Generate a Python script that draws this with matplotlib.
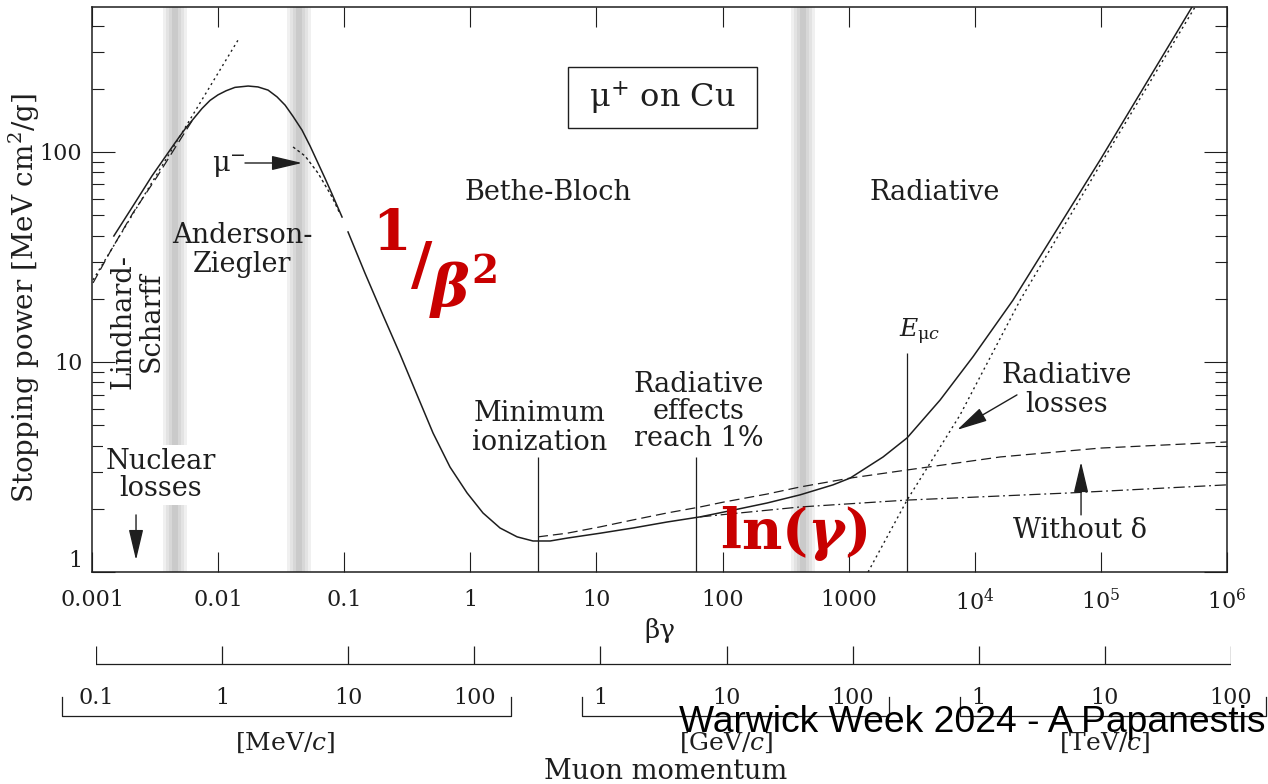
import matplotlib.pyplot as plt
from matplotlib.patches import Rectangle
from matplotlib.ticker import LogLocator, NullFormatter, NullLocator

plt.rcParams['font.family'] = 'DejaVu Serif'
plt.rcParams['mathtext.fontset'] = 'dejavuserif'

# total stopping power of mu+ on Cu (two pieces, gap near bg = 0.1)
BG_LOW = [0.00149, 0.002113, 0.00299, 0.00455, 0.00547, 0.00745, 0.00863, 0.00998,
          0.01157, 0.0136, 0.0173, 0.0207, 0.0249, 0.0293, 0.0340, 0.0393, 0.0463,
          0.0536, 0.0619, 0.0705, 0.0800, 0.0961]
S_LOW = [39.8, 55.3, 76.9, 110.4, 128.7, 161, 176, 187,
         195.6, 203, 206, 204, 197, 183, 167, 147.6, 127,
         106.8, 88.6, 74.8, 63.1, 49.0]

BG_HIGH = [0.1072, 0.146, 0.203, 0.277, 0.378, 0.506, 0.690, 0.942, 1.26, 1.72, 2.35,
           3.14, 4.29, 5.85, 10.7, 19.5, 36.3, 66.4, 121, 225, 412, 752, 1027, 1875,
           2905, 5310, 9690, 20100, 98600, 528000]
S_HIGH = [41.6, 26.5, 16.7, 10.9, 6.97, 4.59, 3.16, 2.38, 1.91, 1.62, 1.47,
          1.405, 1.405, 1.45, 1.53, 1.62, 1.73, 1.83, 1.97, 2.13, 2.33, 2.60, 2.80, 3.53,
          4.35, 6.59, 10.6, 19.7, 91.6, 490]

# without density effect (dashed)
BG_NODELTA = [3.44, 5.85, 10.7, 19.5, 36.3, 66.4, 101, 225, 412, 1027, 2905, 15900, 98600, 1e6]
S_NODELTA = [1.47, 1.53, 1.64, 1.77, 1.91, 2.04, 2.15, 2.35, 2.54, 2.80, 3.06, 3.53, 3.89, 4.16]

# ionization only (dash-dot)
BG_ION = [66.4, 412, 2905, 57000, 1e6]
S_ION = [1.83, 2.04, 2.20, 2.38, 2.60]

# radiative losses (dotted)
BG_RAD = [1425, 2905, 7640, 22900, 98600, 558000]
S_RAD = [1.0, 2.20, 5.59, 19.7, 86.7, 490]

# Lindhard-Scharff (dashed) and low energy asymptote (dotted)
BG_LS = [0.00102, 0.00139, 0.00211, 0.00327, 0.00455, 0.00621]
S_LS = [23.8, 33.4, 51.2, 76.0, 104.5, 140.5]
BG_ASYM = [0.00102, 0.01439]
S_ASYM = [24.6, 341]

# mu- correction
BG_MUM = [0.0393, 0.0489, 0.0619, 0.0800, 0.0927]
S_MUM = [105.6, 95.7, 79.4, 61.1, 50.7]

# minimum ionization, radiative 1%, muon critical energy
MARK_BG = [3.44, 61.6, 2905]
MARK_TOP = [3.53, 3.53, 11.0]

BAND_CENTERS = [0.00455, 0.0439, 435]

X_TICKS = [1e-3, 1e-2, 1e-1, 1, 10, 100, 1000, 1e4, 1e5, 1e6]
X_LABELS = ['0.001', '0.01', '0.1', '1', '10', '100', '1000',
            r'$10^4$', r'$10^5$', r'$10^6$']
Y_TICKS = [1, 10, 100]
Y_LABELS = ['1', '10', '100']

# muon momentum scale, MeV/c
P_TICKS = [0.1, 1, 10, 100, 1e3, 1e4, 1e5, 1e6, 1e7, 1e8]
P_LABELS = ['0.1', '1', '10', '100', '1', '10', '100', '1', '10', '100']
P_UNITS = [r'[MeV/$c$]', r'[GeV/$c$]', r'[TeV/$c$]']
P_UNIT_POS = [3.16, 1e4, 1e7]
P_BRACKETS = [(0.0537, 195), (715, 1.945e5), (7.11e5, 1.9e8)]

INK = '#1e1e1e'
RED = '#c80000'

fig = plt.figure(figsize=(12.68, 7.84), dpi=100)
ax = fig.add_axes([92 / 1268, 212 / 784, 1135 / 1268, 565 / 784])
ax.set_xscale('log')
ax.set_yscale('log')
ax.set_xlim(1e-3, 1e6)
ax.set_ylim(1, 490)

for c in BAND_CENTERS:
    for hw, col in [(0.095, '#f0f0f0'), (0.072, '#e3e3e3'), (0.048, '#d7d7d7'), (0.022, '#cacaca')]:
        ax.axvspan(c * 10 ** -hw, c * 10 ** hw, color=col, lw=0, zorder=0)

ax.plot(BG_LOW, S_LOW, color=INK, lw=1.1)
ax.plot(BG_HIGH, S_HIGH, color=INK, lw=1.1)
ax.plot(BG_NODELTA, S_NODELTA, color=INK, lw=0.9, ls=(0, (8, 4)))
ax.plot(BG_ION, S_ION, color=INK, lw=0.9, ls=(0, (9, 3, 1.5, 3)))
ax.plot(BG_RAD, S_RAD, color=INK, lw=1.0, ls=(0, (1.5, 2.5)))
ax.plot(BG_LS, S_LS, color=INK, lw=0.9, ls=(0, (8, 4)))
ax.plot(BG_ASYM, S_ASYM, color=INK, lw=1.0, ls=(0, (1.5, 2.5)))
ax.plot(BG_MUM, S_MUM, color=INK, lw=1.0, ls=(0, (2, 2)))
ax.vlines(MARK_BG, 1, MARK_TOP, color=INK, lw=0.9)

# axes styling
for sp in ax.spines.values():
    sp.set_linewidth(1.1)
    sp.set_color(INK)
ax.set_xticks(X_TICKS, X_LABELS)
ax.xaxis.set_minor_locator(NullLocator())
ax.set_yticks(Y_TICKS, Y_LABELS)
ax.yaxis.set_minor_locator(LogLocator(subs=range(2, 10)))
ax.yaxis.set_minor_formatter(NullFormatter())
ax.tick_params(which='both', direction='in', top=True, right=True, width=0.8,
               color=INK, labelcolor=INK, labelsize=16)
ax.tick_params(axis='x', which='major', length=14.4, pad=12)
ax.tick_params(axis='y', which='major', length=16.5, pad=7)
ax.tick_params(axis='y', which='minor', length=8.6)
ax.get_yticklabels()[0].set_verticalalignment('bottom')

ax.set_xlabel('βγ', fontsize=19, color=INK)
ax.xaxis.set_label_coords(0.5, -0.082)
ax.set_ylabel('Stopping power [MeV cm$^2$/g]', fontsize=20, color=INK)
ax.yaxis.set_label_coords(-0.044, 0.485)

# annotations
txt = dict(transform=ax.transAxes, ha='center', va='center', fontsize=19.5, color=INK)
ax.add_patch(Rectangle((0.4194, 0.7858), 0.1665, 0.108, transform=ax.transAxes,
                       fill=False, lw=1.0, ec=INK))
ax.text(0.5026, 0.8398, r'$\mathrm{\mu}^{+}$ on Cu', **{**txt, 'fontsize': 23})
ax.text(0.4018, 0.6708, 'Bethe-Bloch', **txt)
ax.text(0.7427, 0.6708, 'Radiative', **txt)
ax.text(0.1322, 0.5699, 'Anderson-\nZiegler', linespacing=1.05, **txt)
ax.text(0.0396, 0.4425, 'Lindhard-\nScharff', rotation=90, linespacing=1.05, **txt)
ax.text(0.0608, 0.1717, 'Nuclear\nlosses', linespacing=1.0, zorder=2.2,
        bbox=dict(fc='white', ec='none', pad=2), **txt)
ax.text(0.1207, 0.7186, r'$\mathrm{\mu}^{-}$', **txt)
ax.text(0.3947, 0.2549, 'Minimum\nionization', linespacing=1.05, **txt)
ax.text(0.5348, 0.2832, 'Radiative\neffects\nreach 1%', linespacing=1.0, **txt)
ax.text(0.7295, 0.4248, r'$E_{\mathrm{\mu}c}$', **{**txt, 'fontsize': 18})
ax.text(0.8590, 0.3221, 'Radiative\nlosses', linespacing=1.05, **txt)
ax.text(0.8705, 0.0743, 'Without δ', **txt)

arrow = dict(arrowstyle='-|>,head_length=1.9,head_width=0.45', color=INK, lw=1.0,
             shrinkA=0, shrinkB=0)
ax.annotate('', xy=(0.0463, 88.6), xytext=(0.01633, 88.6), arrowprops=arrow)
ax.annotate('', xy=(0.002234, 1.14), xytext=(0.002234, 1.87), arrowprops=arrow)
ax.annotate('', xy=(7240, 4.75), xytext=(21600, 6.97), arrowprops=arrow)
ax.annotate('', xy=(69600, 3.34), xytext=(69600, 1.87), arrowprops=arrow)

# red overlay
red = dict(transform=ax.transAxes, ha='center', va='center', color=RED, fontweight='bold')
ax.text(0.2643, 0.5982, '1', fontsize=40, **red)
ax.text(0.2907, 0.5381, '/', fontsize=42, **red)
ax.text(0.3154, 0.4991, 'β', fontsize=42, style='italic', **red)
ax.text(0.3463, 0.5310, '2', fontsize=28, **red)
ax.text(0.6185, 0.0673, r'$\mathbf{ln(}\mathbfit{\gamma}\mathbf{)}$', fontsize=40,
        transform=ax.transAxes, ha='center', va='center', color=RED)

# muon momentum scale under the plot
axp = fig.add_axes([96 / 1268, 0, 1135 / 1268, 144 / 784])
axp.set_xscale('log')
axp.set_xlim(P_TICKS[0], P_TICKS[-1])
axp.set_ylim(0, 1)
axp.axis('off')
axp.plot([P_TICKS[0], P_TICKS[-1]], [0.833, 0.833], color=INK, lw=0.9)
axp.vlines(P_TICKS, 0.833, 0.958, color=INK, lw=0.9)
for p, lab in zip(P_TICKS, P_LABELS):
    axp.text(p, 0.597, lab, ha='center', va='center', fontsize=16, color=INK)
for (lo, hi), unit, up in zip(P_BRACKETS, P_UNITS, P_UNIT_POS):
    axp.plot([lo, lo, hi, hi], [0.604, 0.472, 0.472, 0.604], color=INK, lw=0.9,
             clip_on=False)
    axp.text(up, 0.285, unit, ha='center', va='center', fontsize=18, color=INK)
axp.text(3300, 0.09, 'Muon momentum', ha='center', va='center', fontsize=19.5, color=INK)

fig.text(679 / 1268, 52 / 784, 'Warwick Week 2024 - A Papanestis', fontsize=26.8,
         family='Liberation Sans', ha='left', va='baseline', color='black')

fig.savefig('out.png', dpi=100)
